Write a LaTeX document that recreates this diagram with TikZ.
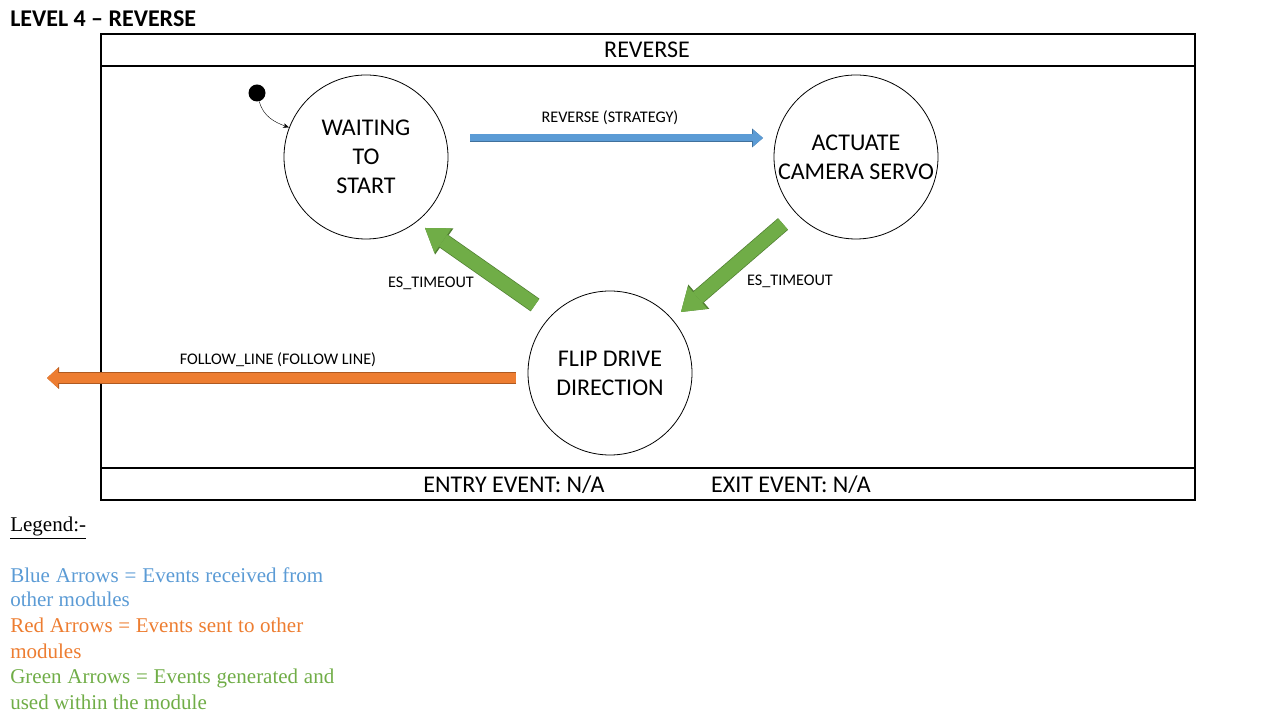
\documentclass[tikz,border=0pt]{standalone}
\usepackage{fontspec}
\setmainfont{Carlito}
\newfontfamily\legendfont{Liberation Serif}
\usetikzlibrary{shapes,arrows,arrows.meta,automata,positioning}
\definecolor{bluefill}{HTML}{5B9BD5}
\definecolor{blueedge}{HTML}{41719C}
\definecolor{orangefill}{HTML}{ED7D31}
\definecolor{orangeedge}{HTML}{AE5A21}
\definecolor{greenfill}{HTML}{70AD47}
\definecolor{greenedge}{HTML}{507E32}

\begin{document}
\begin{tikzpicture}[x=1pt,y=1pt,semithick,every node/.style={inner sep=0pt}]
\tikzstyle{every state}=[draw=black,line width=0.8pt,minimum size=164pt,inner sep=0pt,align=center,font=\fontsize{24}{29}\selectfont]
\tikzstyle{small}=[font=\fontsize{16.2}{19}\selectfont]
\tikzstyle{big}=[font=\fontsize{24}{28}\selectfont]
\tikzstyle{legend}=[anchor=base west,font=\legendfont\fontsize{21}{25}\selectfont]
\tikzstyle{bluearrow}=[line width=7pt,draw=bluefill,-{Triangle[width=17pt,length=10pt,line width=0pt]},
  preaction={draw=blueedge,line width=8.2pt,-{Triangle[width=19pt,length=11pt,line width=0pt]}}]
\tikzstyle{orangearrow}=[line width=10pt,draw=orangefill,-{Triangle[width=20pt,length=11pt,line width=0pt]},
  preaction={draw=orangeedge,line width=11.2pt,-{Triangle[width=22pt,length=12pt,line width=0pt]}}]
\tikzstyle{greenarrow}=[line width=14pt,draw=greenfill,-{Triangle[width=30pt,length=22pt,line width=0pt]},
  preaction={draw=greenedge,line width=15.4pt,-{Triangle[width=32pt,length=23.5pt,line width=0pt]}}]
\useasboundingbox (0,0) rectangle (1280,720);

% title
\node[anchor=base west,font=\bfseries\fontsize{24}{28}\selectfont] (title) at (10,693) {LEVEL 4 -- REVERSE};

% frame
\draw[line width=1.2pt] (101,220) rectangle (1195,686);
\draw[line width=1.2pt] (101,654) -- (1195,654);
\draw[line width=1.2pt] (101,252) -- (1195,252);
\node[big] (head) at (647,670) {REVERSE};
\node[big] (entry) at (514,235) {ENTRY EVENT: N/A};
\node[big] (exit) at (791,235) {EXIT EVENT: N/A};

% states
\node[state] (wait) at (366,563) {WAITING\\TO\\START};
\node[state] (servo) at (856,563) {ACTUATE\\CAMERA SERVO};
\node[state] (flip) at (610,347) {FLIP DRIVE\\DIRECTION};
\node[circle,fill=black,minimum size=17pt] (init) at (257,627) {};
\draw[thin,-{Stealth[length=6pt,width=4.5pt]}] (init) to[out=-75,in=160] (wait.159);

% events
\coordinate (b1) at (470,582);
\coordinate (b2) at (763,582);
\coordinate (g1) at (535,415);
\coordinate (g2) at (425,492);
\coordinate (g3) at (783,496);
\coordinate (g4) at (681,408);
\coordinate (o1) at (516,342);
\coordinate (o2) at (47,342);
\draw[bluearrow] (b1) -- (b2);
\draw[greenarrow] (g1) -- (g2);
\draw[greenarrow] (g3) -- (g4);
\draw[orangearrow] (o1) -- (o2);
\node[small] (lrev) at (610,602) {REVERSE (STRATEGY)};
\node[small] (lto1) at (431,437) {ES\_TIMEOUT};
\node[small] (lto2) at (790,439) {ES\_TIMEOUT};
\node[small] (lfol) at (278,360) {FOLLOW\_LINE (FOLLOW LINE)};

% legend
\node[legend] (leg) at (10,188) {\underline{Legend:-}};
\node[legend,text=bluefill] (leg1) at (10,137) {\makebox[313pt][s]{Blue Arrows = Events received from}};
\node[legend,text=bluefill] (leg2) at (10,113) {other modules};
\node[legend,text=orangefill] (leg3) at (10,87) {\makebox[293pt][s]{Red Arrows = Events sent to other}};
\node[legend,text=orangefill] (leg4) at (10,61) {modules};
\node[legend,text=greenfill] (leg5) at (10,36) {\makebox[324pt][s]{Green Arrows = Events generated and}};
\node[legend,text=greenfill] (leg6) at (10,10) {used within the module};
\end{tikzpicture}
\end{document}
